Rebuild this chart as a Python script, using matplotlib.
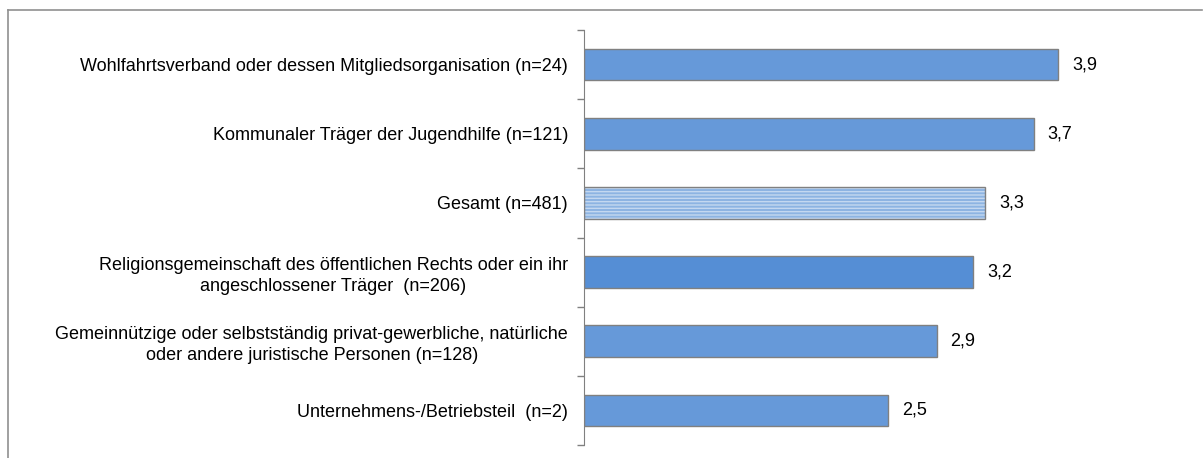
import matplotlib
matplotlib.use("Agg")
import matplotlib.pyplot as plt
from matplotlib.lines import Line2D

plt.rcParams['font.family'] = ['Liberation Sans', 'DejaVu Sans']

labels = [
    "Wohlfahrtsverband oder dessen Mitgliedsorganisation (n=24)",
    "Kommunaler Träger der Jugendhilfe (n=121)",
    "Gesamt (n=481)",
    "Religionsgemeinschaft des öffentlichen Rechts oder ein ihr\nangeschlossener Träger  (n=206)",
    "Gemeinnützige oder selbstständig privat-gewerbliche, natürliche\noder andere juristische Personen (n=128)",
    "Unternehmens-/Betriebsteil  (n=2)",
]
values = [3.9, 3.7, 3.3, 3.2, 2.9, 2.5]
colors = ["#6699d9", "#6699d9", "#8db4e2", "#558ed5", "#6699d9", "#6699d9"]

W, H = 1203, 458
fig = plt.figure(figsize=(W / 100, H / 100), dpi=100)
ax = fig.add_axes([584 / W, 13 / H, 608 / W, 415 / H])

y = list(range(len(labels)))
bh = 0.46
for i, (v, c) in enumerate(zip(values, colors)):
    if labels[i].startswith("Gesamt"):
        ax.barh(i, v, height=bh, color=c, hatch="-----", edgecolor="#c4d8f0", linewidth=0)
        ax.barh(i, v, height=bh, fill=False, edgecolor="#808080", linewidth=1)
    else:
        ax.barh(i, v, height=bh, color=c, edgecolor="#808080", linewidth=1)
    ax.annotate(f"{v:.1f}".replace(".", ","), (v, i), xytext=(10, 0), textcoords="offset points",
                va="center", ha="left", fontsize=13)

ax.set_xlim(0, 5)
ax.set_ylim(len(labels) - 0.5, -0.5)
ax.set_xticks([])
ax.set_yticks([i - 0.5 for i in range(len(labels) + 1)])
ax.set_yticklabels([])
ax.set_yticks(y, minor=True)
ax.set_yticklabels(labels, minor=True, fontsize=13, ha="right", multialignment="center",
                   linespacing=1.3)
ax.tick_params(axis="y", which="minor", length=0, pad=11.5)
ax.tick_params(axis="y", which="major", length=5, color="#808080", width=1)
for s in ["top", "right", "bottom"]:
    ax.spines[s].set_visible(False)
ax.spines["left"].set_color("#808080")

# outer frame
fig.add_artist(Line2D([8 / W, 1202 / W], [1 - 10 / H, 1 - 10 / H], color="#909090", lw=1.2))
fig.add_artist(Line2D([8 / W, 8 / W], [0, 1 - 10 / H], color="#909090", lw=1.2))

fig.savefig("out.png", dpi=100)
